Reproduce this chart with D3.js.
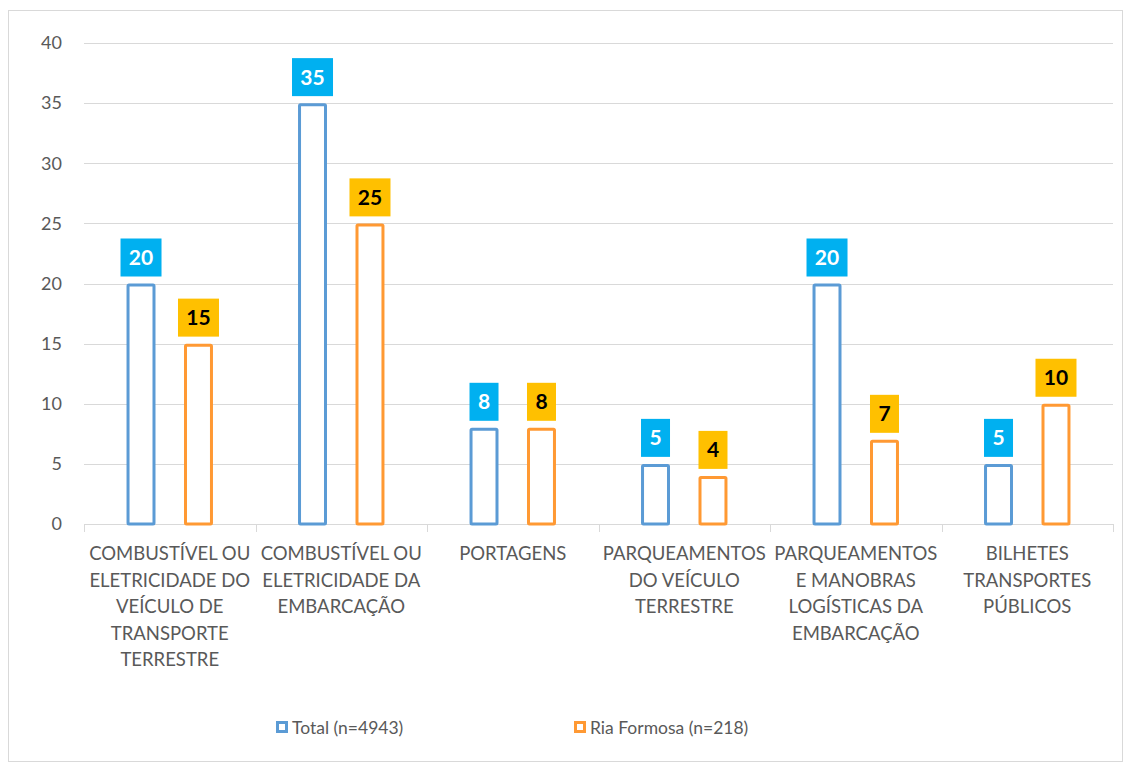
<!DOCTYPE html>
<html><head><meta charset="utf-8">
<script src="https://cdn.jsdelivr.net/npm/d3@7"></script>
<style>body{margin:0;background:#fff}svg{display:block}text{font-family:Lato,"Open Sans",sans-serif}</style>
</head><body><svg id="c" width="1131" height="771"></svg>
<script>
const categories = [
  "COMBUSTÍVEL OU\nELETRICIDADE DO\nVEÍCULO DE\nTRANSPORTE\nTERRESTRE",
  "COMBUSTÍVEL OU\nELETRICIDADE DA\nEMBARCAÇÃO",
  "PORTAGENS",
  "PARQUEAMENTOS\nDO VEÍCULO\nTERRESTRE",
  "PARQUEAMENTOS\nE MANOBRAS\nLOGÍSTICAS DA\nEMBARCAÇÃO",
  "BILHETES\nTRANSPORTES\nPÚBLICOS"
];
const seriesNames = ["Total (n=4943)", "Ria Formosa (n=218)"];
const totalValues = [20, 35, 8, 5, 20, 5];
const riaValues = [15, 25, 8, 4, 7, 10];
const yTicks = [0, 5, 10, 15, 20, 25, 30, 35, 40];

const strokeColors = ["#5B9BD5", "#FF9933"];
const labelFills = ["#00B0F0", "#FFC000"];
const labelText = ["#fff", "#000"];

(function(){
const svg = d3.select("#c");
svg.append("rect").attr("x", 8.5).attr("y", 10.5).attr("width", 1114).attr("height", 751)
  .attr("fill", "#fff").attr("stroke", "#D9D9D9").attr("stroke-width", 1);

const pl = 84, pr = 1113, pt = 43, pb = 524;
const x = d3.scaleBand().domain(categories).range([pl, pr]).paddingInner(0).paddingOuter(0);
const xs = d3.scaleBand().domain([0, 1]).range([0, x.bandwidth()]).paddingInner(0.496).paddingOuter(0.74);
const y = d3.scaleLinear().domain([0, 40]).range([pb, pt]);

svg.append("g").selectAll("line").data(yTicks.filter(d => d > 0)).join("line")
  .attr("x1", pl).attr("x2", pr).attr("y1", d => Math.round(y(d)) + 0.5).attr("y2", d => Math.round(y(d)) + 0.5)
  .attr("stroke", "#D9D9D9").attr("stroke-width", 1);

const yAxis = d3.axisLeft(y).tickValues(yTicks).tickSize(0).tickPadding(0);
const yg = svg.append("g").attr("transform", `translate(62,0)`).call(yAxis);
yg.select(".domain").remove();
yg.selectAll("text").attr("font-size", 18).attr("fill", "#595959").attr("font-family", "Lato, sans-serif");

const xg = svg.append("g");
xg.append("line").attr("x1", pl).attr("x2", pr).attr("y1", pb + 0.5).attr("y2", pb + 0.5).attr("stroke", "#D9D9D9");
const bounds = categories.map(c => x(c)).concat([pr]);
xg.selectAll("line.t").data(bounds).join("line").attr("class", "t")
  .attr("x1", d => Math.round(d) + 0.5).attr("x2", d => Math.round(d) + 0.5)
  .attr("y1", pb).attr("y2", pb + 8).attr("stroke", "#D9D9D9");

categories.forEach(c => {
  const lines = c.split("\n");
  const t = svg.append("text").attr("text-anchor", "middle").attr("font-size", 18.5).attr("fill", "#595959");
  lines.forEach((l, i) => t.append("tspan").attr("x", x(c) + x.bandwidth() / 2).attr("y", 560 + i * 26.5).text(l));
});

const data = categories.map((c, i) => [totalValues[i], riaValues[i]]);
const groups = svg.append("g").selectAll("g").data(categories).join("g")
  .attr("transform", c => `translate(${x(c)},0)`);
groups.each(function(c, ci) {
  const g = d3.select(this);
  [0, 1].forEach(s => {
    const v = data[ci][s];
    const bx = xs(s), bw = xs.bandwidth();
    g.append("rect").attr("x", bx + 1.5).attr("y", y(v) + 1.5).attr("width", bw - 3).attr("height", y(0) - y(v) - 1.5)
      .attr("fill", "#fff").attr("stroke", strokeColors[s]).attr("stroke-width", 3).attr("rx", 1);
    const lbl = String(v);
    const w = lbl.length * 12 + 17, h = 38;
    const cx = bx + bw / 2;
    g.append("rect").attr("x", cx - w / 2).attr("y", y(v) - 7 - h).attr("width", w).attr("height", h).attr("fill", labelFills[s]);
    g.append("text").attr("x", cx).attr("y", y(v) - 7 - h / 2 + 7.5).attr("text-anchor", "middle")
      .attr("font-size", 21).attr("font-weight", "bold").attr("fill", labelText[s]).text(lbl);
  });
});

const legX = [276, 574];
seriesNames.forEach((n, i) => {
  svg.append("rect").attr("x", legX[i] + 1.5).attr("y", 722.5).attr("width", 9).attr("height", 9)
    .attr("fill", "#fff").attr("stroke", strokeColors[i]).attr("stroke-width", 3);
  svg.append("text").attr("x", legX[i] + 16).attr("y", 734).attr("font-size", 17.5).attr("fill", "#595959").text(n);
});
})();
</script></body></html>
